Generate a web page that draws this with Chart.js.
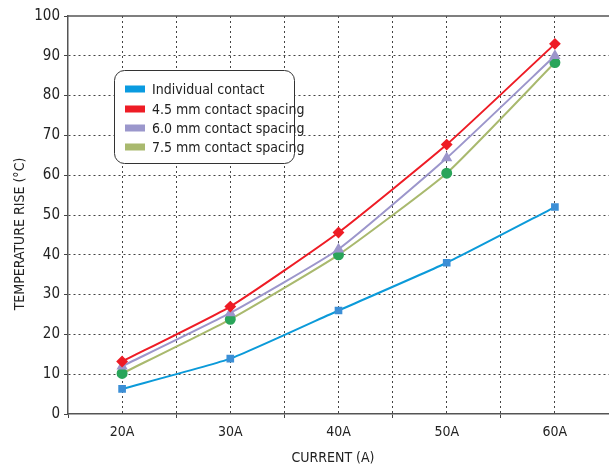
<!DOCTYPE html>
<html><head><meta charset="utf-8">
<script src="https://cdn.jsdelivr.net/npm/chart.js@4/dist/chart.umd.min.js"></script>
<style>html,body{margin:0;padding:0;background:#fff}#wrap{width:609px;height:467px}</style>
</head><body><div id="wrap"><canvas id="c" width="609" height="467"></canvas></div>
<script>
const categories = ["20A", "30A", "40A", "50A", "60A"];
const currents = [20, 30, 40, 50, 60];
const individualContact = [6.3, 13.9, 26.0, 38.0, 52.0];
const spacing45 = [13.2, 27.0, 45.6, 67.7, 93.0];
const spacing60 = [12.0, 25.4, 41.4, 64.3, 90.0];
const spacing75 = [10.2, 23.8, 40.0, 60.5, 88.3];
const seriesNames = ["Individual contact", "4.5 mm contact spacing", "6.0 mm contact spacing", "7.5 mm contact spacing"];
const yTicks = [0, 10, 20, 30, 40, 50, 60, 70, 80, 90, 100];
const xTitle = "CURRENT (A)";
const yTitle = "TEMPERATURE RISE (°C)";

const FONT = "'DejaVu Sans Condensed', 'Liberation Sans Narrow', sans-serif";
const pts = arr => arr.map((v, i) => ({x: currents[i], y: v}));

const legendColors = ['#0a9be0', '#ee1c25', '#9b97cc', '#a9b96e'];

const decorPlugin = {
  id: 'decor',
  afterDraw(chart) {
    const ctx = chart.ctx;
    const a = chart.chartArea;
    ctx.save();
    // solid top border line
    ctx.strokeStyle = '#555'; ctx.lineWidth = 1.5;
    ctx.beginPath(); ctx.moveTo(a.left, a.top); ctx.lineTo(a.right, a.top); ctx.stroke();
    // axis titles
    ctx.fillStyle = '#222';
    ctx.font = '14px ' + FONT;
    ctx.textAlign = 'center';
    ctx.textBaseline = 'middle';
    ctx.fillText(xTitle, 333, 458);
    ctx.save();
    ctx.translate(20, 234);
    ctx.rotate(-Math.PI / 2);
    ctx.fillText(yTitle, 0, 0);
    ctx.restore();
    // legend box
    const x = 114.5, y = 70.5, w = 180, h = 93, r = 10;
    ctx.beginPath();
    ctx.roundRect(x, y, w, h, r);
    ctx.fillStyle = '#fff'; ctx.fill();
    ctx.strokeStyle = '#333'; ctx.lineWidth = 1; ctx.stroke();
    ctx.font = '14px ' + FONT;
    ctx.textAlign = 'left';
    ctx.textBaseline = 'middle';
    const rows = [89, 109, 128, 147];
    chart.data.datasets.forEach((ds, i) => {
      ctx.fillStyle = legendColors[i];
      ctx.fillRect(125, rows[i] - 3.5, 20, 7);
      ctx.fillStyle = '#222';
      ctx.fillText(ds.label, 152, rows[i] + 1);
    });
    ctx.restore();
  }
};

new Chart(document.getElementById('c'), {
  type: 'line',
  data: {
    datasets: [
      {label: seriesNames[0], data: pts(individualContact), borderColor: '#0b9ad9', backgroundColor: '#3c8fd6', pointBackgroundColor: '#3c8fd6', pointBorderColor: '#3c8fd6', pointStyle: 'rect', pointRadius: 4, borderWidth: 2, tension: 0.15},
      {label: seriesNames[1], data: pts(spacing45), borderColor: '#ee1c25', backgroundColor: '#ee1c25', pointBackgroundColor: '#ee1c25', pointBorderColor: '#ee1c25', pointStyle: 'rectRot', pointRadius: 4.5, borderWidth: 2, tension: 0.15},
      {label: seriesNames[2], data: pts(spacing60), borderColor: '#9c96cb', backgroundColor: '#9c96cb', pointBackgroundColor: '#9c96cb', pointBorderColor: '#9c96cb', pointStyle: 'triangle', pointRadius: 4.5, borderWidth: 2, tension: 0.15},
      {label: seriesNames[3], data: pts(spacing75), borderColor: '#a9b96e', backgroundColor: '#2aa55a', pointBackgroundColor: '#2aa55a', pointBorderColor: '#2aa55a', pointStyle: 'circle', pointRadius: 4.5, borderWidth: 2, tension: 0.15}
    ]
  },
  options: {
    responsive: false,
    animation: false,
    layout: {autoPadding: false, padding: {top: 16, right: 0, left: 0, bottom: 0}},
    plugins: {legend: {display: false}, tooltip: {enabled: false}},
    scales: {
      x: {
        type: 'linear', min: 15, max: 65,
        afterFit: s => { s.height = 53; s.paddingLeft = 0; s.paddingRight = 0; },
        ticks: {stepSize: 5, autoSkip: false, maxRotation: 0, padding: 6, color: '#222', font: {family: FONT, size: 14},
          callback: v => (v % 10 === 0 && v >= 20 && v <= 60) ? categories[(v - 20) / 10] : ''},
        grid: {color: ctx => (ctx.tick && (ctx.tick.value === 15 || ctx.tick.value === 65)) ? 'transparent' : '#444', lineWidth: 1, tickLength: 4,
          tickColor: ctx => (ctx.tick && ctx.tick.value % 10 === 0) ? 'transparent' : '#444'},
        border: {display: true, color: '#555', width: 1.5, dash: [2, 3]},
        title: {display: false}
      },
      y: {
        min: 0, max: 100,
        afterFit: s => { s.width = 68; s.paddingTop = 0; s.paddingBottom = 0; },
        afterBuildTicks: s => { s.ticks = yTicks.map(v => ({value: v})); },
        ticks: {padding: 4, color: '#222', font: {family: FONT, size: 15}},
        grid: {color: ctx => (ctx.tick && (ctx.tick.value === 0 || ctx.tick.value === 100)) ? 'transparent' : '#444', lineWidth: 1, tickLength: 4, tickColor: '#444'},
        border: {display: true, color: '#555', width: 1.5, dash: [2, 3]},
        title: {display: false}
      }
    }
  },
  plugins: [decorPlugin]
});
</script></body></html>
